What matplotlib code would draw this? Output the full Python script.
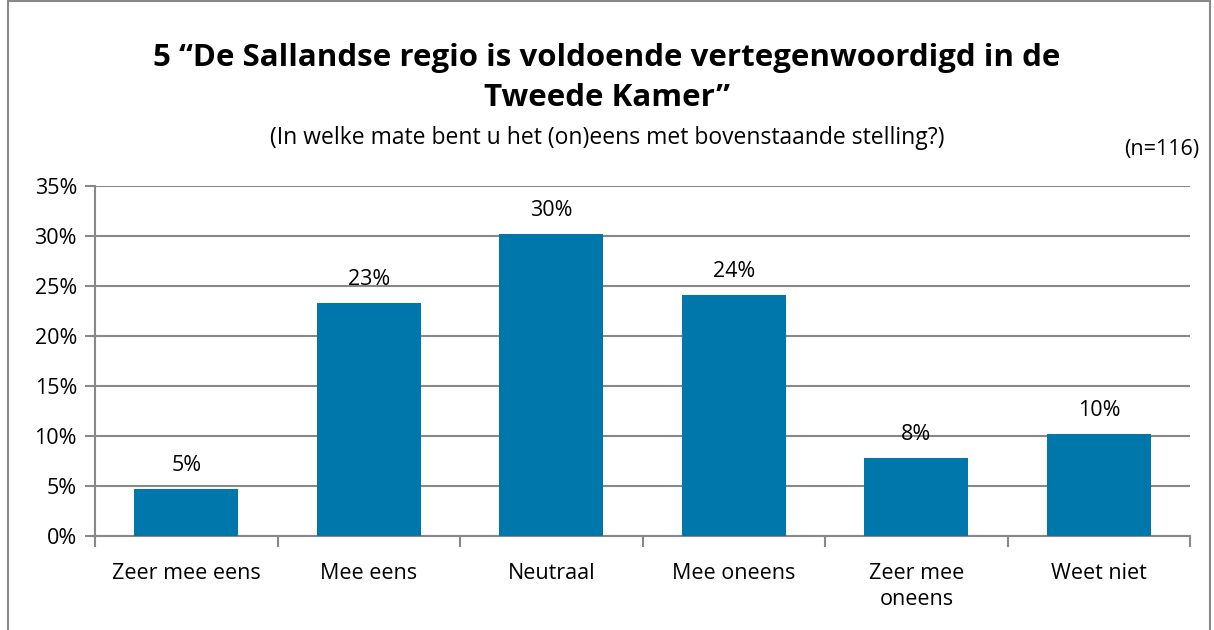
import numpy as np
import matplotlib.pyplot as plt
from matplotlib.patches import Rectangle

plt.rcParams['font.family'] = ['Open Sans', 'DejaVu Sans']

# answer categories and shares (percent)
categories = ['Zeer mee eens', 'Mee eens', 'Neutraal', 'Mee oneens', 'Zeer mee\noneens', 'Weet niet']
values = [4.7, 23.3, 30.2, 24.1, 7.8, 10.2]
labels = ['5%', '23%', '30%', '24%', '8%', '10%']
yticks = [0, 5, 10, 15, 20, 25, 30, 35]

bar_color = '#0077AB'
grid_color = '#888888'

fig = plt.figure(figsize=(12.14, 6.30), dpi=100)
ax = fig.add_axes([0.0783, 0.149, 0.902, 0.556])

x = np.arange(len(categories))
ax.bar(x, values, width=0.57, color=bar_color, zorder=3)
for xi, v, lab in zip(x, values, labels):
    ax.text(xi, v + 1.3, lab, ha='center', va='bottom', fontsize=15.5)

ax.set_xlim(-0.5, len(categories) - 0.5)
ax.set_ylim(0, 35)
ax.set_yticks(yticks)
ax.set_yticklabels([f'{t}%' for t in yticks], fontsize=15.5)
ax.yaxis.grid(True, color=grid_color, linewidth=1.5, zorder=0)
ax.tick_params(axis='y', length=7, color=grid_color, width=1.5, pad=6)

# category labels centered, ticks between categories
ax.set_xticks(x)
ax.set_xticklabels(categories, fontsize=15.5, linespacing=1.35)
ax.tick_params(axis='x', length=0, pad=19)
ax.set_xticks(np.arange(len(categories) + 1) - 0.5, minor=True)
ax.tick_params(axis='x', which='minor', length=8, color=grid_color, width=1.5)

for side in ['top', 'right']:
    ax.spines[side].set_visible(False)
for side in ['left', 'bottom']:
    ax.spines[side].set_color(grid_color)
    ax.spines[side].set_linewidth(1.5)

fig.text(0.5, 0.908, '5 \u201cDe Sallandse regio is voldoende vertegenwoordigd in de',
         ha='center', va='center', fontsize=22.5, fontweight='bold')
fig.text(0.5, 0.844, 'Tweede Kamer\u201d', ha='center', va='center', fontsize=22.5, fontweight='bold')
fig.text(0.5, 0.781, '(In welke mate bent u het (on)eens met bovenstaande stelling?)',
         ha='center', va='center', fontsize=16.5)
fig.text(0.988, 0.762, '(n=116)', ha='right', va='center', fontsize=15.5)

# frame around the chart
fig.patches.append(Rectangle((0.007, -0.01), 0.99, 1.008, transform=fig.transFigure,
                             fill=False, edgecolor='#888888', linewidth=1.5))

fig.savefig('out.png', dpi=100)
